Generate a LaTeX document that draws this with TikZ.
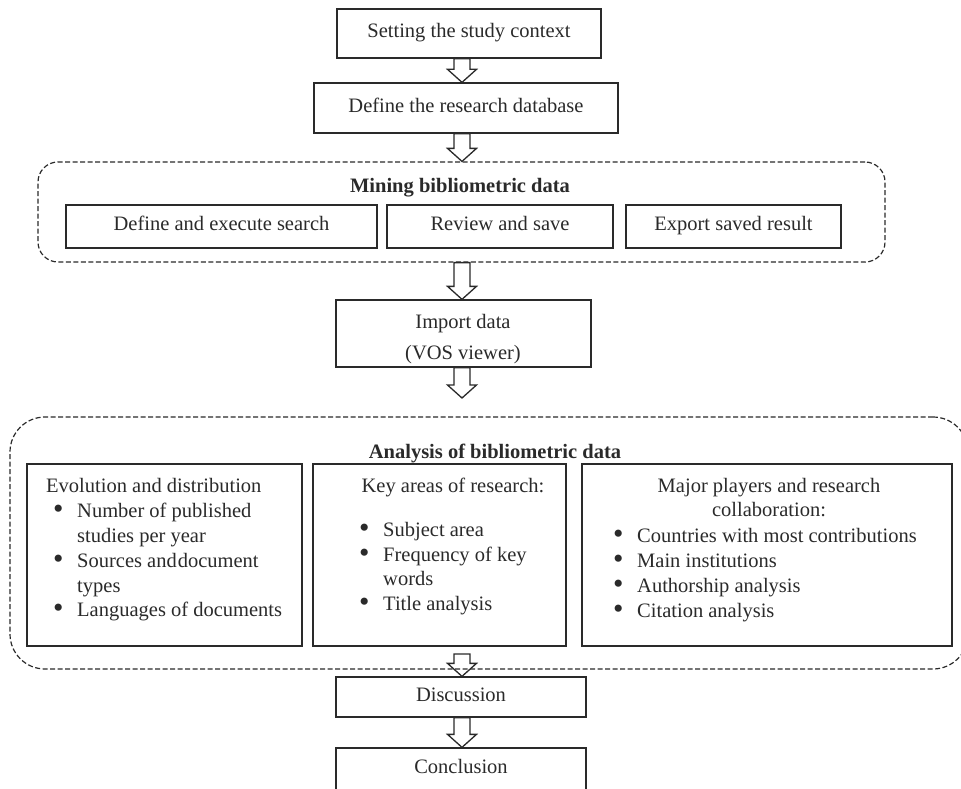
\documentclass[tikz,border=0pt]{standalone}
\usepackage{fontspec}
\setmainfont{Liberation Serif}
\usetikzlibrary{calc}
\definecolor{ink}{HTML}{2A2A2A}
\newcommand\fs{\fontsize{20.5}{25}\selectfont}
\newcommand\bul{\makebox[25pt][l]{\hspace{1pt}\smash{\raisebox{-1.2pt}{\scalebox{1.45}{\textbullet}}}}}
\newcommand\blkarrow[2]{\draw[blk] let \p1=#1, \p2=#2 in
  (\x1-8pt,\y1) -- (\x1+8pt,\y1) -- (\x1+8pt,\y2+13pt) -- (\x1+14.5pt,\y2+13pt)
  -- (\x1,\y2) -- (\x1-14.5pt,\y2+13pt) -- (\x1-8pt,\y2+13pt) -- cycle;}
\begin{document}
\begin{tikzpicture}[x=1pt,y=-1pt,
  box/.style={draw=ink,line width=1.3pt,inner sep=0pt,font=\fs,text=ink,align=center,text height=13pt,text depth=4.5pt},
  frame/.style={draw=ink,line width=1.3pt,inner sep=0pt},
  dbox/.style={draw=ink,line width=1.2pt,dash pattern=on 5pt off 2.5pt,inner sep=0pt},
  txt/.style={inner sep=0pt,font=\fs,text=ink,text height=12pt,text depth=0pt},
  ttl/.style={inner sep=0pt,font=\fs\bfseries,text=ink,text height=12pt,text depth=0pt},
  blk/.style={draw=ink,line width=1.3pt,line join=miter}]
\useasboundingbox (0,0) rectangle (961,789);
\coordinate (ax) at (462,0);

% top boxes
\node[box,minimum width=264pt,minimum height=49pt] (set) at (469,33.5) {Setting the study context};
\node[box,minimum width=304pt,minimum height=50pt] (def) at (466,108) {Define the research database};

% mining dashed group
\node[dbox,rounded corners=20pt,minimum width=847pt,minimum height=100pt] (mine) at (461.5,212) {};
\node[ttl] (minet) at (460,187) {Mining bibliometric data};
\node[box,minimum width=311pt,minimum height=43pt] (sa) at (221.5,226.5) {Define and execute search};
\node[box,minimum width=226pt,minimum height=43pt] (sb) at (500,226.5) {Review and save};
\node[box,minimum width=215pt,minimum height=43pt] (sc) at (733.5,226.5) {Export saved result};

% import
\node[frame,minimum width=255pt,minimum height=67pt] (imp) at (463.5,333.5) {};
\node[txt] (imp1) at (463,322) {Import data};
\node[txt] (imp2) at (463,353) {(VOS viewer)};

% analysis dashed group
\node[dbox,rounded corners=35pt,minimum width=958pt,minimum height=252pt] (ana) at (489,543) {};
\node[ttl] (anat) at (495,452) {Analysis of bibliometric data};
\node[frame,minimum width=275pt,minimum height=182pt] (bd) at (164.5,555) {};
\node[frame,minimum width=253pt,minimum height=182pt] (be) at (439.5,555) {};
\node[frame,minimum width=370pt,minimum height=182pt] (bf) at (767,555) {};

\node[txt,anchor=west] (d0) at (46,486) {Evolution and distribution};
\node[txt,anchor=west] (d1) at (52,511) {\bul Number of published};
\node[txt,anchor=west] (d2) at (77,536) {studies per year};
\node[txt,anchor=west] (d3) at (52,561) {\bul Sources and\hspace{1pt}document};
\node[txt,anchor=west] (d4) at (77,586) {types};
\node[txt,anchor=west] (d5) at (52,610) {\bul Languages of documents};

\node[txt] (e0) at (453,486) {Key areas of research:};
\node[txt,anchor=west] (e1) at (358,530) {\bul Subject area};
\node[txt,anchor=west] (e2) at (358,555) {\bul Frequency of key};
\node[txt,anchor=west] (e3) at (383,579) {words};
\node[txt,anchor=west] (e4) at (358,604) {\bul Title analysis};

\node[txt] (f0) at (769,486) {Major players and research};
\node[txt] (f1) at (769,510) {collaboration:};
\node[txt,anchor=west] (f2) at (612,536) {\bul Countries with most contributions};
\node[txt,anchor=west] (f3) at (612,561) {\bul Main institutions};
\node[txt,anchor=west] (f4) at (612,586) {\bul Authorship analysis};
\node[txt,anchor=west] (f5) at (612,611) {\bul Citation analysis};

% bottom boxes
\node[box,minimum width=250pt,minimum height=40pt] (disc) at (461,697) {Discussion};
\node[box,minimum width=250pt,minimum height=43pt] (conc) at (461,769.5) {Conclusion};

% block arrows
\coordinate (a4e) at (462,398);
\coordinate (a5s) at (462,654);
\blkarrow{(set.south -| ax)}{(def.north -| ax)}
\blkarrow{(def.south -| ax)}{(mine.north -| ax)}
\blkarrow{(mine.south -| ax)}{(imp.north -| ax)}
\blkarrow{(imp.south -| ax)}{(a4e)}
\blkarrow{(a5s)}{(disc.north -| ax)}
\blkarrow{(disc.south -| ax)}{(conc.north -| ax)}
\end{tikzpicture}
\end{document}
